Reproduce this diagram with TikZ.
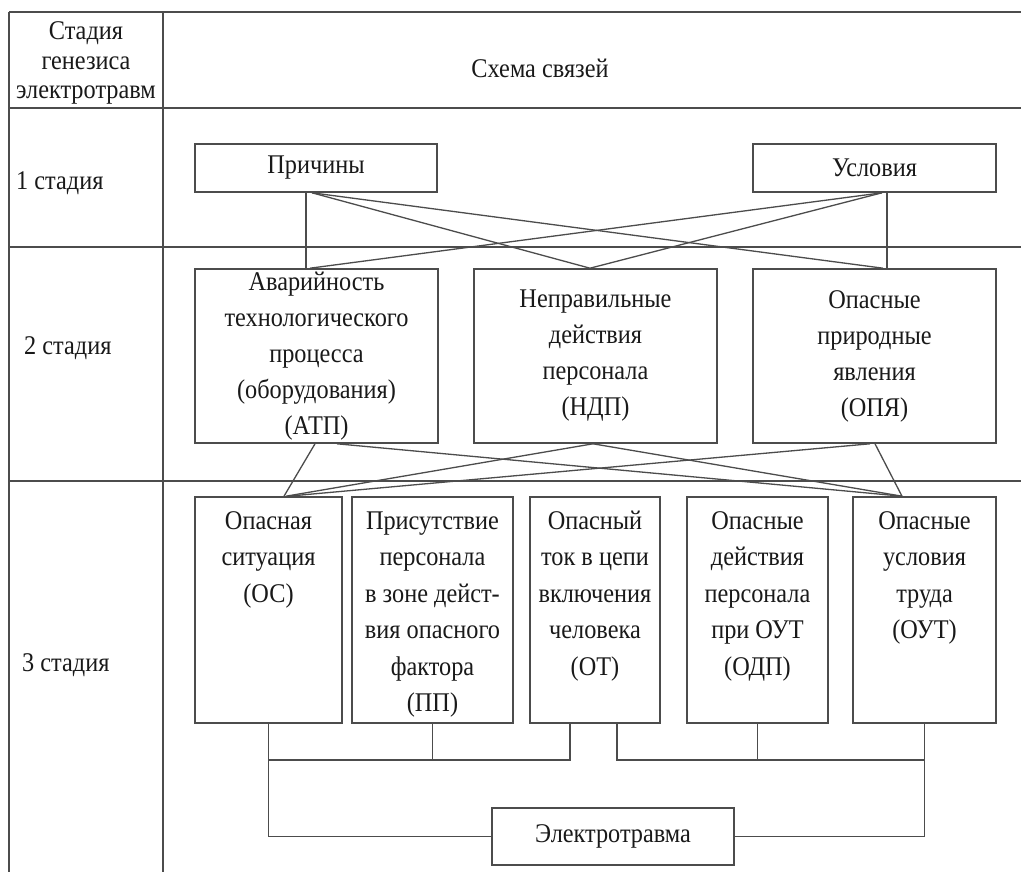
\documentclass[tikz,border=0pt]{standalone}
\usepackage{fontspec}
\setmainfont{Liberation Serif}[FakeStretch=0.9]
\usetikzlibrary{calc}
\begin{document}
\begin{tikzpicture}[x=1pt,y=-1pt,
  grid/.style={draw=black!70,line width=1.3pt},
  link/.style={draw=black!70,line width=1.3pt},
  box/.style={draw=black!70,line width=1.6pt,inner sep=0pt,align=center,
    font=\fontsize{27}{36}\selectfont,text=black!90},
  txt/.style={inner sep=0pt,align=center,font=\fontsize{27}{36.5}\selectfont,text=black!90},
  lbl/.style={inner sep=0pt,anchor=west,font=\fontsize{27}{30}\selectfont,text=black!90}]
\useasboundingbox (0,0) rectangle (1021,872);
\fill[white] (0,0) rectangle (1021,872);
% table
\draw[grid] (9,12) -- (1021,12);
\draw[grid] (9,12) -- (9,872);
\draw[grid] (163,12) -- (163,872);
\draw[grid] (9,108) -- (1021,108);
\draw[grid] (9,247) -- (1021,247);
\draw[grid] (9,481) -- (1021,481);
% header
\node[txt,font=\fontsize{27}{29.5}\selectfont] (hstage) at (86,63) {Стадия\\генезиса\\электротравм};
\node[txt] (hscheme) at (540,68) {Схема связей};
\node[lbl] (s1) at (16,183) {1 стадия};
\node[lbl] (s2) at (24,348) {2 стадия};
\node[lbl] (s3) at (22,665) {3 стадия};
% stage 1
\node[box,minimum width=242pt,minimum height=48pt] (prich) at (316,168) {Причины};
\node[box,minimum width=243pt,minimum height=48pt] (usl) at (874.5,168) {Условия};
% stage 2
\node[box,minimum width=243pt,minimum height=174pt] (atp) at (316.5,356)
  {Аварийность\\технологического\\процесса\\(оборудования)\\(АТП)};
\node[box,minimum width=243pt,minimum height=174pt] (ndp) at (595.5,356)
  {Неправильные\\действия\\персонала\\(НДП)};
\node[box,minimum width=243pt,minimum height=174pt] (opya) at (874.5,356)
  {Опасные\\природные\\явления\\(ОПЯ)};
% stage 3
\node[box,minimum width=147pt,minimum height=226pt] (os) at (268.5,610) {};
\node[box,minimum width=161pt,minimum height=226pt] (pp) at (432.5,610) {};
\node[box,minimum width=130pt,minimum height=226pt] (ot) at (595,610) {};
\node[box,minimum width=141pt,minimum height=226pt] (odp) at (757.5,610) {};
\node[box,minimum width=143pt,minimum height=226pt] (out) at (924.5,610) {};
\node[txt,anchor=north] (ost) at ($(os.north)+(0,13)$) {\rule{0pt}{20pt}Опасная\\ситуация\\(ОС)};
\node[txt,anchor=north] (ppt) at ($(pp.north)+(0,13)$) {\rule{0pt}{20pt}Присутствие\\персонала\\в зоне дейст-\\вия опасного\\фактора\\(ПП)};
\node[txt,anchor=north] (ott) at ($(ot.north)+(0,13)$) {\rule{0pt}{20pt}Опасный\\ток в цепи\\включения\\человека\\(ОТ)};
\node[txt,anchor=north] (odpt) at ($(odp.north)+(0,13)$) {\rule{0pt}{20pt}Опасные\\действия\\персонала\\при ОУТ\\(ОДП)};
\node[txt,anchor=north] (outt) at ($(out.north)+(0,13)$) {\rule{0pt}{20pt}Опасные\\условия\\труда\\(ОУТ)};
% result
\node[box,minimum width=242pt,minimum height=57pt] (el) at (613,836.5) {Электротравма};
% stage 1 -> stage 2
\draw[link] (prich.south -| 306,0) -- (atp.north -| 306,0);
\draw[link] (prich.south -| 312,0) -- (ndp.north -| 590,0);
\draw[link] (prich.south -| 312,0) -- (opya.north -| 883,0);
\draw[link] (usl.south -| 882,0) -- (atp.north -| 310,0);
\draw[link] (usl.south -| 882,0) -- (ndp.north -| 590,0);
\draw[link] (usl.south -| 887,0) -- (opya.north -| 887,0);
% stage 2 -> stage 3
\draw[link] (atp.south -| 315,0) -- (os.north -| 284,0);
\draw[link] (atp.south -| 337,0) -- (out.north -| 902,0);
\draw[link] (ndp.south -| 593,0) -- (os.north -| 286,0);
\draw[link] (ndp.south -| 593,0) -- (out.north -| 902,0);
\draw[link] (opya.south -| 870,0) -- (os.north -| 288,0);
\draw[link] (opya.south -| 875,0) -- (out.north -| 902,0);
% stage 3 -> result
\draw[link] (os.south) |- (el.west);
\draw[link] (out.south) |- (el.east);
\draw[link] (os.south |- 0,760) -| (ot.south -| 570,0);
\draw[link] (pp.south) -- (pp.south |- 0,760);
\draw[link] (out.south |- 0,760) -| (ot.south -| 617,0);
\draw[link] (odp.south) -- (odp.south |- 0,760);
\end{tikzpicture}
\end{document}
